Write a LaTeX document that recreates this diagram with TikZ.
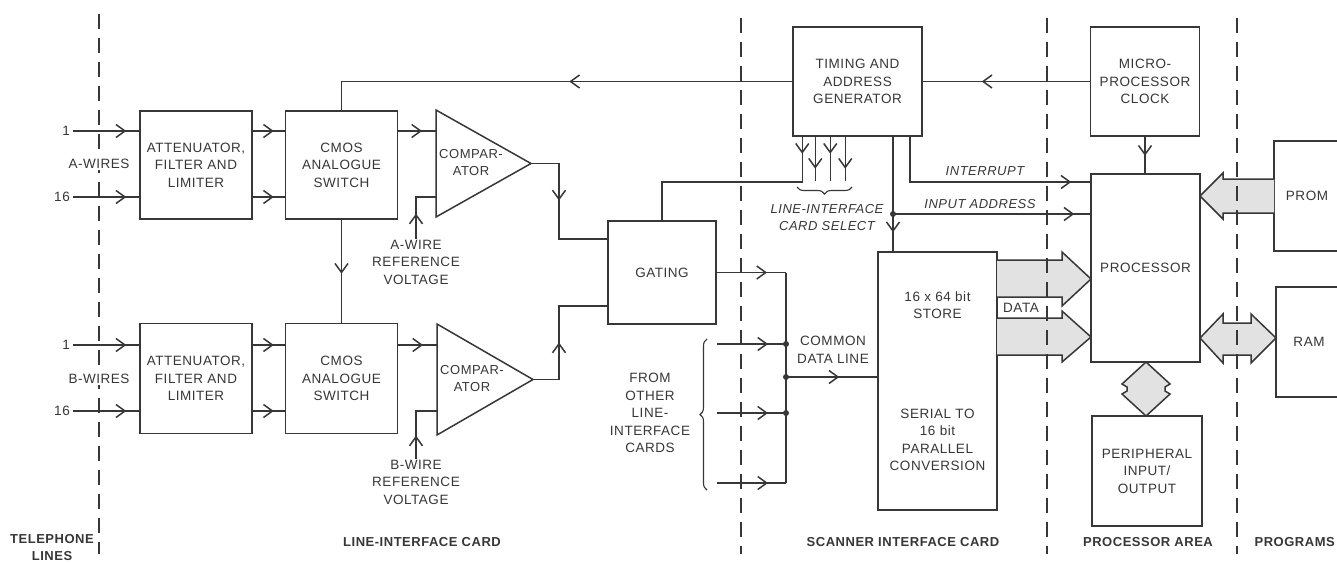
\documentclass[tikz,border=0pt]{standalone}
\usepackage{fontspec}
\setmainfont{Liberation Sans}[LetterSpace=4]
\usetikzlibrary{arrows.meta, positioning, calc, decorations.markings, decorations.pathreplacing}
\definecolor{cInk}{RGB}{55,55,55}
\definecolor{cBus}{RGB}{226,226,226}

\begin{document}
\begin{tikzpicture}[
  x=1pt, y=-1pt,
  font=\fontsize{13.5}{17.5}\selectfont,
  color=cInk,
  >={Straight Barb[length=9pt,width=13pt]},
  % ── boxes
  blk/.style={
    draw, line width=1.5pt, align=center, inner sep=2pt,
    minimum width=112pt, minimum height=108pt
  },
  % ── labels
  lbl/.style ={align=center, inner sep=1pt},
  ital/.style={lbl, font=\fontsize{13}{17}\selectfont\itshape},
  area/.style={lbl, font=\fontsize{13}{17}\selectfont\bfseries},
  % ── lines
  ln/.style   ={draw, line width=1.5pt},
  tipat/.style={postaction={decorate},
    decoration={markings, mark=at position #1 with {\arrow{>}}}},
  fat/.style  ={draw, line width=1.5pt, fill=cBus, line join=miter},
  border/.style={draw, line width=2.6pt, dash pattern=on 15pt off 9pt},
  jdot/.style ={circle, fill, inner sep=0pt, minimum size=6pt},
]

\path[use as bounding box, fill=white] (0,0) rectangle (1337,563);

%% ═══════════════════════════════════════════════════════════════════════════
%%  LINE-INTERFACE CARD
%% ═══════════════════════════════════════════════════════════════════════════

\coordinate (rA1) at (0,131);
\coordinate (rA2) at (0,197);
\coordinate (rB1) at (0,345);
\coordinate (rB2) at (0,411);

\node[blk] (AA) at (196,165) {ATTENUATOR,\\FILTER AND\\LIMITER};
\node[blk, right=32pt of AA] (SA) {CMOS\\ANALOGUE\\SWITCH};

\node[blk, minimum height=110pt] (AB) at (196,378.5) {ATTENUATOR,\\FILTER AND\\LIMITER};
\node[blk, minimum height=110pt, right=32pt of AB] (SB) {CMOS\\ANALOGUE\\SWITCH};

% wire inputs
\foreach \r/\n/\b in {rA1/1/AA, rA2/16/AA, rB1/1/AB, rB2/16/AB} {
  \node[lbl, inner sep=3pt, anchor=east] (n\r) at ([xshift=73pt]\r) {\n};
  \draw[ln, tipat=-13pt] (n\r.east) -- (\b.west |- \r);
}

% attenuator -> switch
\foreach \r/\a/\s in {rA1/AA/SA, rA2/AA/SA, rB1/AB/SB, rB2/AB/SB}
  \draw[ln, tipat=-11pt] (\a.east |- \r) -- (\s.west |- \r);

% comparators
\draw[ln, line join=miter] (436,110) -- (531,163.5) -- (436,217) -- cycle;
\node[lbl, font=\fontsize{13}{17}\selectfont] (CAt) at (471,163) {COMPAR-\\ATOR};
\coordinate (CAo) at (531,163.5);
\coordinate (CAx) at (436,0);

\draw[ln, line join=miter] (437,324) -- (533,379.5) -- (437,435) -- cycle;
\node[lbl, font=\fontsize{13}{17}\selectfont] (CBt) at (472,379) {COMPAR-\\ATOR};
\coordinate (CBo) at (533,379.5);
\coordinate (CBx) at (437,0);

\draw[ln, tipat=-14pt] (SA.east |- rA1) -- (CAx |- rA1);
\draw[ln, tipat=-14pt] (SB.east |- rB1) -- (CBx |- rB1);

% reference voltages
\node[lbl] (RVA) at (416,262) {A-WIRE\\REFERENCE\\VOLTAGE};
\node[lbl] (RVB) at (416,482) {B-WIRE\\REFERENCE\\VOLTAGE};
\draw[ln, tipat=25pt] (RVA.north) |- (CAx |- rA2);
\draw[ln, tipat=23pt] (RVB.north) |- (CBx |- rB2);

% switch A -> switch B
\draw[ln, tipat=54pt] (SA.south) -- (SB.north);

% gating
\node[blk, minimum width=108pt, minimum height=103pt] (GT) at (662,272.5) {GATING};
\coordinate (jx) at (559,0);
\coordinate (gA) at (0,239);
\coordinate (gB) at (0,306);
\draw[ln, tipat=65pt] (CAo) -- (CAo -| jx) -- (jx |- gA) -- (GT.west |- gA);
\draw[ln, tipat=63pt] (CBo) -- (CBo -| jx) -- (jx |- gB) -- (GT.west |- gB);

%% ═══════════════════════════════════════════════════════════════════════════
%%  SCANNER INTERFACE CARD
%% ═══════════════════════════════════════════════════════════════════════════

\node[blk, minimum width=129pt, minimum height=109pt] (TG) at (857.5,81.5)
  {TIMING AND\\ADDRESS\\GENERATOR};
\node[blk, minimum width=119pt, minimum height=258pt] (ST) at (937.5,381)
  {16 x 64 bit\\STORE\\[82pt]SERIAL TO\\16 bit\\PARALLEL\\CONVERSION};

% timing -> switch A
\draw[ln, tipat=223pt] (TG.west) -| (SA.north);

% card select lines
\coordinate (yS) at (0,182);
\draw[ln, tipat=17pt] ([xshift=10pt]TG.south west) |- (yS -| GT.north) -- (GT.north);
\foreach \dx/\tp in {23/32pt, 38/17pt, 53/32pt}
  \draw[ln, tipat=\tp] ([xshift=\dx pt]TG.south west) -- ++(0,44);
\draw[ln, line width=1.1pt, decorate, decoration={brace, amplitude=7pt}]
  (852,187) -- (797,187);
\node[ital] (LCS) at (827,217.5) {LINE-INTERFACE\\CARD SELECT};

% common data line
\coordinate (bus) at (786,0);
\coordinate (cd) at (0,377);
\coordinate (o1) at (717,344);
\coordinate (o2) at (717,413);
\coordinate (o3) at (717,483);
\draw[ln, tipat=-19pt] (GT.east) -- (GT.east -| bus);
\draw[ln] (GT.east -| bus) -- (bus |- o3);
\foreach \o in {o1,o2,o3}
  \draw[ln, tipat=-18pt] (\o) -- (\o -| bus);
\draw[ln, tipat=-38pt] (bus |- cd) -- (ST.west |- cd);
\node[jdot] (d1) at (bus |- o1) {};
\node[jdot] (d2) at (bus |- o2) {};
\node[jdot] (d3) at (bus |- cd) {};
\node[lbl] (CDL) at (833,350) {COMMON\\DATA LINE};

\draw[ln, line width=1.1pt, decorate, decoration={brace, amplitude=7pt}]
  (707,490) -- (707,339);
\node[lbl] (FOC) at (650,413) {FROM\\OTHER\\LINE-\\INTERFACE\\CARDS};

%% ═══════════════════════════════════════════════════════════════════════════
%%  PROCESSOR AREA + PROGRAMS
%% ═══════════════════════════════════════════════════════════════════════════

\node[blk, minimum width=109pt, minimum height=109pt] (CK) at (1145,81.5)
  {MICRO-\\PROCESSOR\\CLOCK};
\node[blk, minimum width=109pt, minimum height=188pt] (PR) at (1145.5,268) {PROCESSOR};
\node[blk, minimum width=110pt, minimum height=110pt] (PE) at (1147,471)
  {PERIPHERAL\\INPUT/\\OUTPUT};
\node[blk, minimum width=66pt, minimum height=110pt] (PM) at (1307,196) {PROM};
\node[blk, minimum width=66pt, minimum height=110pt] (RM) at (1309,342) {RAM};

\draw[ln, tipat=108pt] (CK.west) -- (TG.east);
\draw[ln, tipat=19pt] (CK.south) -- (CK.south |- PR.north);

% interrupt / input address
\coordinate (xI) at (910,0);
\coordinate (yI) at (0,182);
\coordinate (xa) at (893,0);
\coordinate (yA) at (0,214);
\draw[ln, tipat=-19pt] (xI |- TG.south) |- (PR.west |- yI);
\draw[ln, tipat=-19pt] (xa |- TG.south) -- (xa |- ST.north);
\draw[ln, tipat=-16pt] (xa |- yA) -- (PR.west |- yA);
\node[jdot] (dA) at (xa |- yA) {};
\node[ital] (INT) at (985,171) {INTERRUPT};
\node[ital] (IAD) at (980,204) {INPUT ADDRESS};

% data buses
\draw[fat] (997,260) -- (1062,260) -- (1062,252) -- (1091,279) -- (1062,306)
  -- (1062,297) -- (997,297);
\draw[fat] (997,318) -- (1062,318) -- (1062,311) -- (1091,337) -- (1062,362)
  -- (1062,355) -- (997,355);
\node[lbl] (DAT) at (1021,308) {DATA};

\draw[fat] (1274,179) -- (1223,179) -- (1223,173) -- (1200,196) -- (1223,219)
  -- (1223,213) -- (1274,213);
\draw[fat] (1200,338) -- (1223,314) -- (1223,323) -- (1251,323) -- (1251,314)
  -- (1276,338) -- (1251,363) -- (1251,355) -- (1223,355) -- (1223,363) -- cycle;
\draw[fat] (1146,362) -- (1170,384) -- (1165,387) -- (1165,391) -- (1170,394)
  -- (1146,416) -- (1122,394) -- (1127,391) -- (1127,387) -- (1122,384) -- cycle;

%% ═══════════════════════════════════════════════════════════════════════════
%%  AREA BORDERS AND LABELS
%% ═══════════════════════════════════════════════════════════════════════════

\foreach \bx/\by in {99/14, 741/18, 1047/18, 1237/18}
  \draw[border] (\bx,\by) -- (\bx,554);

\node[lbl, fill=white] (AW) at (99,164) {A-WIRES};
\node[lbl, fill=white] (BW) at (99,379) {B-WIRES};

\node[area] (LTL) at (52,548) {TELEPHONE\\LINES};
\node[area] (LLI) at (422,542) {LINE-INTERFACE CARD};
\node[area] (LSC) at (903,542) {SCANNER INTERFACE CARD};
\node[area] (LPA) at (1148,542) {PROCESSOR AREA};
\node[area, anchor=east] (LPG) at (1336,542) {PROGRAMS};

\end{tikzpicture}
\end{document}
